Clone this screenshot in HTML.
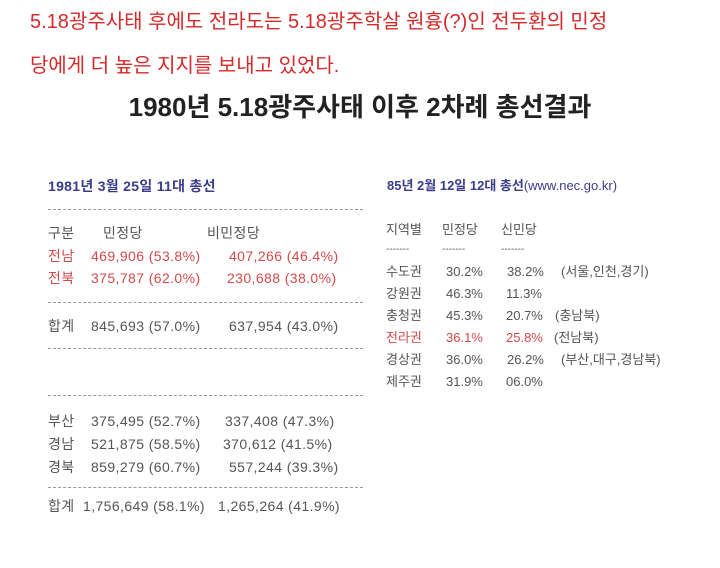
<!DOCTYPE html>
<html><head><meta charset="utf-8"><style>
body{margin:0;width:720px;height:568px;background:#fff;position:relative;overflow:hidden;font-family:"Liberation Sans","Noto Sans CJK KR",sans-serif}
.t{position:absolute;white-space:nowrap;line-height:1}
.r{color:#d42a2a;font-size:20px}
.g{color:#555;font-size:13px}
.p{color:#d44a4a;font-size:13px}
.L .g,.L .p{font-size:14px;letter-spacing:0.4px}
.n{color:#3b3b8c;font-size:13px;font-weight:bold}
.d{position:absolute;border-top:1px dashed #999;height:0}
</style></head><body>
<div class="t r" style="left:30px;top:12px">5.18광주사태 후에도 전라도는 5.18광주학살 원흉(?)인 전두환의 민정</div>
<div class="t r" style="left:30px;top:56px">당에게 더 높은 지지를 보내고 있었다.</div>
<div class="t" style="left:0;width:720px;text-align:center;top:94px;font-size:26px;font-weight:bold;color:#222">1980년 5.18광주사태 이후 2차례 총선결과</div>

<div class="L">
<div class="t n" style="left:48px;top:179px;font-size:14px;letter-spacing:0.3px">1981년 3월 25일 11대 총선</div>
<div class="d" style="left:48px;width:315px;top:209px"></div>
<div class="t g" style="left:48px;top:226px">구분</div><div class="t g" style="left:103px;top:226px">민정당</div><div class="t g" style="left:207px;top:226px">비민정당</div>
<div class="t p" style="left:48px;top:249px">전남</div><div class="t p" style="left:91px;top:249px">469,906 (53.8%)</div><div class="t p" style="left:229px;top:249px">407,266 (46.4%)</div>
<div class="t p" style="left:48px;top:271px">전북</div><div class="t p" style="left:91px;top:271px">375,787 (62.0%)</div><div class="t p" style="left:227px;top:271px">230,688 (38.0%)</div>
<div class="d" style="left:48px;width:315px;top:302px"></div>
<div class="t g" style="left:48px;top:319px">합계</div><div class="t g" style="left:91px;top:319px">845,693 (57.0%)</div><div class="t g" style="left:229px;top:319px">637,954 (43.0%)</div>
<div class="d" style="left:48px;width:315px;top:348px"></div>
<div class="d" style="left:48px;width:315px;top:395px"></div>
<div class="t g" style="left:48px;top:414px">부산</div><div class="t g" style="left:91px;top:414px">375,495 (52.7%)</div><div class="t g" style="left:225px;top:414px">337,408 (47.3%)</div>
<div class="t g" style="left:48px;top:437px">경남</div><div class="t g" style="left:91px;top:437px">521,875 (58.5%)</div><div class="t g" style="left:223px;top:437px">370,612 (41.5%)</div>
<div class="t g" style="left:48px;top:460px">경북</div><div class="t g" style="left:91px;top:460px">859,279 (60.7%)</div><div class="t g" style="left:229px;top:460px">557,244 (39.3%)</div>
<div class="d" style="left:48px;width:315px;top:487px"></div>
<div class="t g" style="left:48px;top:499px">합계</div><div class="t g" style="left:83px;top:499px">1,756,649 (58.1%)</div><div class="t g" style="left:218px;top:499px">1,265,264 (41.9%)</div>
</div>

<div class="t n" style="left:387px;top:179px">85년 2월 12일 12대 총선<span style="font-weight:normal">(www.nec.go.kr)</span></div>
<div class="t g" style="left:386px;top:223px">지역별</div><div class="t g" style="left:442px;top:223px">민정당</div><div class="t g" style="left:501px;top:223px">신민당</div>
<div class="t g" style="left:386px;top:245px;font-size:10px">-------</div><div class="t g" style="left:442px;top:245px;font-size:10px">-------</div><div class="t g" style="left:501px;top:245px;font-size:10px">-------</div>
<div class="t g" style="left:386px;top:265px">수도권</div><div class="t g" style="left:446px;top:265px">30.2%</div><div class="t g" style="left:507px;top:265px">38.2%</div><div class="t g" style="left:561px;top:265px">(서울,인천,경기)</div>
<div class="t g" style="left:386px;top:287px">강원권</div><div class="t g" style="left:446px;top:287px">46.3%</div><div class="t g" style="left:506px;top:287px">11.3%</div>
<div class="t g" style="left:386px;top:309px">충청권</div><div class="t g" style="left:446px;top:309px">45.3%</div><div class="t g" style="left:506px;top:309px">20.7%</div><div class="t g" style="left:555px;top:309px">(충남북)</div>
<div class="t p" style="left:386px;top:331px">전라권</div><div class="t p" style="left:446px;top:331px">36.1%</div><div class="t p" style="left:506px;top:331px">25.8%</div><div class="t g" style="left:554px;top:331px">(전남북)</div>
<div class="t g" style="left:386px;top:353px">경상권</div><div class="t g" style="left:446px;top:353px">36.0%</div><div class="t g" style="left:507px;top:353px">26.2%</div><div class="t g" style="left:561px;top:353px">(부산,대구,경남북)</div>
<div class="t g" style="left:386px;top:375px">제주권</div><div class="t g" style="left:446px;top:375px">31.9%</div><div class="t g" style="left:506px;top:375px">06.0%</div>
</body></html>
